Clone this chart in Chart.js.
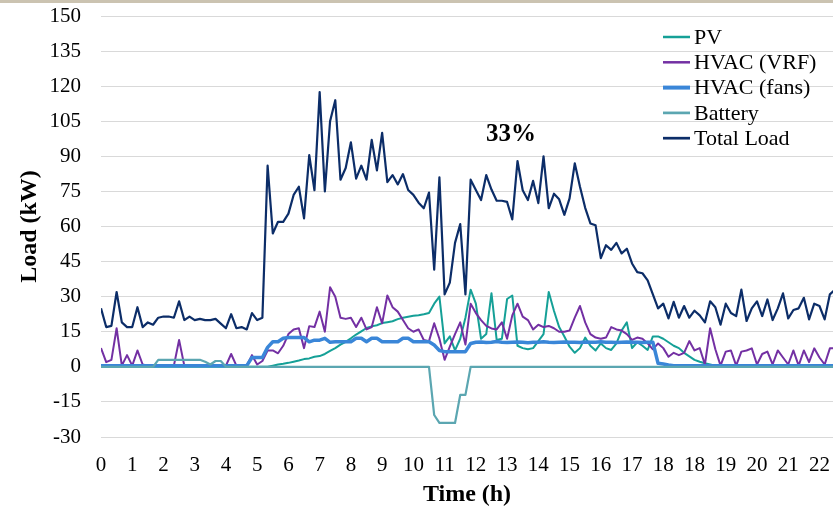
<!DOCTYPE html>
<html>
<head>
<meta charset="utf-8">
<script src="https://cdn.jsdelivr.net/npm/chart.js@4.4.1/dist/chart.umd.min.js"></script>
<style>
  html, body { margin: 0; padding: 0; background: #ffffff; overflow: hidden; }
  #wrap { position: relative; width: 833px; height: 511px; }
  #wrap canvas { position: absolute; left: 0; top: 0; }
  #topband { position: absolute; left: 0; top: 0; width: 833px; height: 3px; background: #cbc3b1; }
</style>
</head>
<body>
<div id="wrap">
  <canvas id="loadChart" width="833" height="511"></canvas>
  <div id="topband"></div>
</div>
<script>
// Hour labels shown under the time axis, one every 6 samples (10-minute data)
const hourTicks = ["0","1","2","3","4","5","6","7","8","9","10","11","12","13","14","15","16","17","18","18","19","20","21","22"];
const samplesPerTick = 6;
const peakNote = "33%";

// Power per 10-minute sample, kW
const pv = [
  0,0,0,0,0,0,0,0,0,0,
  0,0,0,0,0,0,0,0,0,0,
  0,0,0,0,0,0,0,0,0,0,
  0,0,0,0.5,1,1.3,1.7,2.2,2.7,3.3,
  3.6,4.3,4.6,5.5,6.8,8,9.5,10.7,12.2,13.8,
  15.2,16.6,17.3,17.8,18.7,19.1,19.5,20.4,21,21.4,
  21.8,22.1,22.5,23,27,30,10,13,7,12,
  21,33,27,12,14,31.5,11.5,12,29,30.5,
  9,8,7.5,8,11,14,32,24,17,13,
  8.6,6,8,12.5,9,7,10,8,7.2,10,
  15.5,19,8,10.5,9,7.2,13,13,12,10.5,
  9,8,6,4.5,3,2.2,1.5,1,0.5,0,
  0,0,0,0,0,0,0,0,0,0,
  0,0,0,0,0,0,0,0,0,0,
  0,0
];

const hvacVrf = [
  8,2,3,16.5,0.5,5,0.5,7,1,0.5,
  0.5,0.5,0.5,0.5,0.5,11.5,0.5,0.5,0.5,0.5,
  0.5,0.5,0.5,0.5,0.5,5.5,0.5,0.5,0.5,5,
  1,2.5,7,7,5.8,9,14,16,16.5,8,
  17.4,17,23.6,15,34,30,21,20.5,21,17,
  21,16,17,25.5,18.6,30.5,25.5,23.6,20,16.5,
  15,16,11.5,11,18.6,12,3,8.6,14,19,
  9.5,27,23,20,17.5,16.4,16,19,12,22,
  27,21.5,20,16,18,17,17.5,16.5,15,15,
  15.5,21,26,19,14,12.5,12,12.5,17,16,
  15.5,14,11.5,12.5,12,10,7.5,10,8,4.3,
  6,5,6,11,7,8,1,16.5,7.5,0.5,
  6.5,7,0.5,6.5,7,7.9,1,5.5,6.5,1,
  7,4,1,7,0.5,7,2,7.9,4,1,
  7.9,8
];

const hvacFans = [
  0.5,0.5,0.5,0.5,0.5,0.5,0.5,0.5,0.5,0.5,
  0.5,0.5,0.5,0.5,0.5,0.5,0.5,0.5,0.5,0.5,
  0.5,0.5,0.5,0.5,0.5,0.5,0.5,0.5,0.5,4,
  4,4,8.3,10.7,10.7,12.2,12.5,12.5,12.5,12.5,
  10.7,11.4,11.4,12.2,10.5,10.7,10.7,10.7,10.7,12.2,
  12.2,10.7,12.2,12.2,10.7,10.7,10.7,10.7,12.2,12.2,
  10.7,10.7,10.7,10.7,9.3,7,6.5,6.5,6.5,6.5,
  6.5,10,10.5,10.6,10.4,10.5,10.8,10.5,10.4,10.5,
  10.6,10.5,10.3,10.5,10.5,10.7,10.5,10.4,10.5,10.6,
  10.5,10.5,10.4,10.6,10.5,10.5,10.7,10.5,10.5,10.4,
  10.5,10.6,10.5,10.5,10.4,10.5,10.5,1.5,1.2,0.8,
  0.5,0.5,0.5,0.5,0.5,0.5,0.5,0.5,0.5,0.5,
  0.5,0.5,0.5,0.5,0.5,0.5,0.5,0.5,0.5,0.5,
  0.5,0.5,0.5,0.5,0.5,0.5,0.5,0.5,0.5,0.5,
  0.5,0.5
];

const battery = [
  0,0,0,0,0,0,0,0,0,0,
  0,3,3,3,3,3,3,3,3,3,
  2.2,1,2.5,2.5,0,0,0,0,0,0,
  0,0,0,0,0,0,0,0,0,0,
  0,0,0,0,0,0,0,0,0,0,
  0,0,0,0,0,0,0,0,0,0,
  0,0,0,0,-20.6,-24,-24,-24,-24,-12,
  -12,0,0,0,0,0,0,0,0,0,
  0,0,0,0,0,0,0,0,0,0,
  0,0,0,0,0,0,0,0,0,0,
  0,0,0,0,0,0,0,0,0,0,
  0,0,0,0,0,0,0,0,0,0,
  0,0,0,0,0,0,0,0,0,0,
  0,0,0,0,0,0,0,0,0,0,
  0,0
];

const totalLoad = [
  25,17,17.5,32,19,17,17,25.5,17,19,
  18,21,21.5,21.5,21,28,20,21.5,20,20.5,
  20,20,20.5,18.5,16.5,22.5,16.5,17,16,23,
  20,21,86,57,62,62,65.5,73.5,77,63.5,
  90.5,75.5,117.5,75,105,114,80,85,96,80.5,
  86,80,97,84,100,79,82,78,82.4,75.6,
  73.5,70.2,67.8,74.5,41.5,81,31,36,53,61,
  31,80,75.6,71.3,82,75.8,71,71,70.5,63,
  88,75.5,71.3,79.5,70,90,67.8,74,71.6,65,
  72,87,77,68,61.3,60.5,46.5,52,50,53,
  48.5,50.5,44.2,40.5,40,37,31,25,27,20.7,
  27.8,21,26,21,24,22,19,28,25.5,18,
  27,23,21.7,33,19.6,25,28,21.7,28.8,20,
  25,31.4,20.7,24.3,25,29.5,20.3,27,26,20.3,
  31,33
];

const serif = '"Liberation Serif", "Times New Roman", serif';

function toPoints(values) {
  return values.map((v, i) => ({ x: i, y: v }));
}

function lineSet(label, values, color, width, order) {
  return {
    label: label,
    data: toPoints(values),
    borderColor: color,
    backgroundColor: color,
    borderWidth: width,
    pointRadius: 0,
    tension: 0,
    fill: false,
    order: order,
    borderJoinStyle: 'round'
  };
}

// Key drawn inside the plot, top right
const seriesKey = {
  id: 'seriesKey',
  afterDraw(chart) {
    const ctx = chart.ctx;
    ctx.save();
    ctx.font = '22px ' + serif;
    ctx.textBaseline = 'middle';
    ctx.textAlign = 'left';
    chart.data.datasets.forEach((ds, k) => {
      const y = 37 + k * 25.3;
      ctx.strokeStyle = ds.borderColor;
      ctx.lineWidth = Math.min(ds.borderWidth + 0.5, 4);
      ctx.beginPath();
      ctx.moveTo(663, y);
      ctx.lineTo(690, y);
      ctx.stroke();
      ctx.fillStyle = '#000000';
      ctx.fillText(ds.label, 694, y + 1);
    });
    ctx.restore();
  }
};

// Percentage note above the afternoon load
const peakLabel = {
  id: 'peakLabel',
  afterDraw(chart) {
    const ctx = chart.ctx;
    ctx.save();
    ctx.font = 'bold 25px ' + serif;
    ctx.fillStyle = '#000000';
    ctx.textAlign = 'center';
    ctx.textBaseline = 'middle';
    ctx.fillText(peakNote, 511, 135);
    ctx.restore();
  }
};

new Chart(document.getElementById('loadChart'), {
  type: 'line',
  data: {
    datasets: [
      lineSet('PV', pv, '#15a097', 2, 5),
      lineSet('HVAC (VRF)', hvacVrf, '#7330a3', 2, 4),
      lineSet('HVAC (fans)', hvacFans, '#3a86d8', 3.5, 3),
      lineSet('Battery', battery, '#5ba6b1', 2.2, 2),
      lineSet('Total Load', totalLoad, '#0c2d68', 2.2, 1)
    ]
  },
  options: {
    responsive: false,
    animation: false,
    devicePixelRatio: 1,
    layout: { autoPadding: false, padding: { top: 16, right: 0, bottom: 0, left: 0 } },
    plugins: {
      legend: { display: false },
      tooltip: { enabled: false }
    },
    scales: {
      x: {
        type: 'linear',
        min: 0,
        max: 140.6,
        afterBuildTicks(scale) {
          scale.ticks = hourTicks.map((_, k) => ({ value: k * samplesPerTick }));
        },
        afterFit(scale) {
          scale.height = 74;
          scale.paddingLeft = 0;
          scale.paddingRight = 0;
        },
        grid: { display: false, drawTicks: false },
        border: { display: false },
        ticks: {
          autoSkip: false,
          maxRotation: 0,
          padding: 16,
          color: '#000000',
          font: { family: serif, size: 21 },
          callback: (value) => hourTicks[Math.round(value / samplesPerTick)]
        },
        title: {
          display: true,
          text: 'Time (h)',
          color: '#000000',
          font: { family: serif, size: 24, weight: 'bold' },
          padding: { top: 0, bottom: 2 }
        }
      },
      y: {
        min: -30,
        max: 150,
        afterFit(scale) {
          scale.width = 101;
          scale.paddingTop = 0;
          scale.paddingBottom = 0;
        },
        grid: { color: '#d9d9d9', lineWidth: 1, drawTicks: false },
        border: { display: false },
        ticks: {
          stepSize: 15,
          padding: 20,
          color: '#000000',
          font: { family: serif, size: 21 }
        },
        title: {
          display: true,
          text: 'Load (kW)',
          color: '#000000',
          font: { family: serif, size: 24, weight: 'bold' },
          padding: { top: 15, bottom: 0 }
        }
      }
    }
  },
  plugins: [seriesKey, peakLabel]
});
</script>
</body>
</html>
